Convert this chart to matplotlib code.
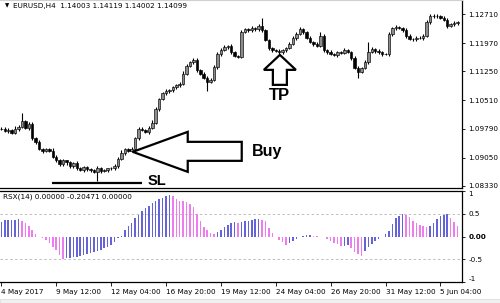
import matplotlib
matplotlib.use("Agg")
import matplotlib.pyplot as plt
import matplotlib.transforms as mtransforms
from matplotlib.patches import Polygon, Rectangle
import numpy as np

# EURUSD H4 candles (close of each bar), open of bar = previous close
CLOSES = [
    1.0979, 1.0974, 1.0976, 1.0969, 1.0979, 1.0984, 1.0999, 1.0981, 1.0991, 1.0954,
    1.0944, 1.0928, 1.0923, 1.0926, 1.0923, 1.0908, 1.0898, 1.0888, 1.0898, 1.0893,
    1.0883, 1.0891, 1.0878, 1.0873, 1.0881, 1.0876, 1.0873, 1.0868, 1.0878, 1.0871,
    1.0873, 1.0878, 1.0878, 1.0883, 1.0903, 1.0918, 1.0926, 1.0923, 1.0928, 1.0954,
    1.0979, 1.0976, 1.0971, 1.0981, 1.0994, 1.1029, 1.1054, 1.1069, 1.1074, 1.1077,
    1.1084, 1.1089, 1.1094, 1.1119, 1.1139, 1.1149, 1.1154, 1.1129, 1.1119, 1.1109,
    1.1099, 1.1104, 1.1137, 1.1169, 1.1179, 1.1187, 1.1190, 1.1174, 1.1164, 1.1162,
    1.1225, 1.1232, 1.1230, 1.1235, 1.1232, 1.1240, 1.1230, 1.1205, 1.1184, 1.1179,
    1.1177, 1.1174, 1.1179, 1.1184, 1.1195, 1.1210, 1.1220, 1.1232, 1.1225, 1.1210,
    1.1200, 1.1195, 1.1190, 1.1215, 1.1179, 1.1174, 1.1169, 1.1167, 1.1174, 1.1172,
    1.1179, 1.1174, 1.1159, 1.1134, 1.1124, 1.1134, 1.1149, 1.1174, 1.1182, 1.1177,
    1.1174, 1.1169, 1.1169, 1.1220, 1.1235, 1.1237, 1.1235, 1.1230, 1.1215, 1.1207,
    1.1207, 1.1210, 1.1210, 1.1215, 1.1250, 1.1265, 1.1267, 1.1265, 1.1262, 1.1257,
    1.1240, 1.1245, 1.1247, 1.1250,
]
OPEN_FIRST = 1.0978
WICK_UP_PIPS = [
    4, 3, 5, 2, 6, 4, 20, 3, 5, 4, 3, 5, 2, 4, 3, 6, 3, 4, 5, 2,
    4, 3, 5, 4, 3, 2, 4, 3, 5, 3, 4, 2, 3, 5, 4, 6, 3, 4, 5, 3,
    4, 5, 3, 4, 6, 5, 4, 3, 5, 4, 3, 4, 5, 6, 4, 3, 5, 4, 3, 4,
    5, 3, 4, 6, 5, 4, 3, 5, 4, 3, 5, 4, 3, 6, 4, 5, 22, 4, 3, 4,
    3, 5, 4, 3, 4, 5, 4, 6, 3, 4, 4, 3, 5, 10, 4, 3, 5, 4, 3, 4,
    5, 4, 3, 4, 5, 3, 4, 25, 4, 3, 5, 4, 3, 6, 4, 5, 3, 4, 5, 4,
    3, 4, 5, 4, 6, 5, 4, 3, 4, 5, 3, 4, 5, 4,
]
WICK_DN_PIPS = [
    3, 4, 6, 3, 4, 5, 3, 4, 5, 3, 4, 3, 5, 4, 3, 4, 5, 3, 4, 6,
    3, 4, 5, 3, 4, 5, 4, 3, 21, 4, 3, 4, 5, 3, 4, 3, 5, 4, 3, 4,
    5, 3, 4, 5, 3, 4, 5, 3, 4, 3, 4, 5, 3, 4, 3, 4, 5, 6, 4, 3,
    25, 4, 3, 5, 4, 3, 4, 5, 3, 4, 4, 3, 5, 4, 3, 4, 5, 3, 4, 5,
    3, 4, 5, 4, 3, 4, 5, 3, 4, 3, 4, 5, 3, 4, 5, 4, 3, 4, 5, 3,
    4, 3, 5, 4, 17, 3, 4, 5, 3, 4, 5, 4, 3, 4, 5, 4, 3, 4, 5, 3,
    4, 5, 3, 4, 3, 4, 5, 4, 3, 4, 5, 3, 4, 5,
]
RSX = [
    0.32, 0.36, 0.36, 0.37, 0.37, 0.38, 0.35, 0.30, 0.22, 0.14,
    0.06, -0.01, -0.04, -0.08, -0.15, -0.22, -0.30, -0.40, -0.49, -0.48,
    -0.47, -0.46, -0.45, -0.43, -0.41, -0.39, -0.37, -0.35, -0.32, -0.29,
    -0.26, -0.22, -0.18, -0.13, -0.04, 0.02, 0.15, 0.22, 0.30, 0.40,
    0.48, 0.55, 0.62, 0.68, 0.73, 0.78, 0.82, 0.85, 0.88, 0.91,
    0.88, 0.83, 0.79, 0.77, 0.75, 0.72, 0.65, 0.50, 0.35, 0.21,
    0.14, 0.07, 0.06, 0.10, 0.14, 0.20, 0.26, 0.30, 0.31, 0.305,
    0.32, 0.34, 0.35, 0.36, 0.38, 0.385, 0.37, 0.33, 0.18, 0.07,
    0.00, -0.08, -0.13, -0.19, -0.15, -0.10, -0.05, -0.02, 0.02, 0.03,
    0.035, 0.02, 0.005, 0.0, -0.02, -0.05, -0.10, -0.14, -0.17, -0.21,
    -0.20, -0.19, -0.26, -0.33, -0.38, -0.42, -0.31, -0.22, -0.16, -0.10,
    -0.05, -0.02, 0.05, 0.12, 0.28, 0.40, 0.46, 0.49, 0.47, 0.42,
    0.35, 0.30, 0.25, 0.22, 0.20, 0.22, 0.30, 0.38, 0.45, 0.48,
    0.485, 0.40, 0.32, 0.22,
]

PRICE_TICKS = [1.12710, 1.11970, 1.11250, 1.10510, 1.09790, 1.09050, 1.08330]
TIME_TICKS = [0, 16, 32, 48, 64, 80, 96, 112, 128]
TIME_LABELS = ["4 May 2017", "9 May 12:00", "12 May 04:00", "16 May 20:00",
               "19 May 12:00", "24 May 04:00", "26 May 20:00", "31 May 12:00",
               "5 Jun 04:00"]
RSX_TICKS = [1, 0.5, 0, -0.5, -1]
RSX_LABELS = ["1", "0.5", "0.00", "-0.5", "-1"]
TITLE = "EURUSD,H4  1.14003 1.14119 1.14002 1.14099"
RSX_TITLE = "RSX(14) 0.00000 -0.20471 0.00000"

BUY_BAR, BUY_PRICE = 38.3, 1.0920
TP_BAR, TP_PRICE = 81.2, 1.1167
SL_PRICE = 1.0841
SL_START, SL_END = 14.7, 40.9

PIP = 0.0001
BLUE = "#6464d8"
MAGENTA = "#ee7cee"
W, H = 500, 303
SMALL = 5.2


def box(x0, y0, x1, y1):
    return [x0 / W, 1 - y1 / H, (x1 - x0) / W, (y1 - y0) / H]


fig = plt.figure(figsize=(W / 100, H / 100), dpi=100)
ax = fig.add_axes(box(0, 0, 462, 188))
rax = fig.add_axes(box(0, 191, 462, 282))

closes = np.array(CLOSES)
opens = np.array([OPEN_FIRST] + CLOSES[:-1])
highs = np.maximum(opens, closes) + np.array(WICK_UP_PIPS) * PIP
lows = np.minimum(opens, closes) - np.array(WICK_DN_PIPS) * PIP
idx = np.arange(len(closes))
body = np.maximum(np.abs(closes - opens), 0.00006)
up = closes >= opens

ax.vlines(idx, lows, highs, color="black", lw=0.8, zorder=2)
ax.bar(idx[up], body[up], bottom=opens[up], width=0.72,
       color="#8c8c8c", edgecolor="black", linewidth=0.45, zorder=3)
ax.bar(idx[~up], body[~up], bottom=closes[~up], width=0.72,
       color="black", edgecolor="black", linewidth=0.45, zorder=3)

ax.set_xlim(-0.4, 134.3)
ax.set_ylim(1.0833 - 2 * 0.0002547, 1.0833 + 186 * 0.0002547)
ax.set_xticks([])
ax.yaxis.tick_right()
ax.set_yticks(PRICE_TICKS, [f"{t:.5f}" for t in PRICE_TICKS])
ax.tick_params(axis="y", direction="out", length=2.5, width=0.6,
               labelsize=SMALL, pad=2)
ax.spines["left"].set_visible(False)
ax.spines["top"].set_color("#d0d0d0")
ax.spines["right"].set_linewidth(0.9)
ax.spines["bottom"].set_linewidth(0.9)

ax.text(5 / 462, 1 - 6 / 188, "\u25BC", transform=ax.transAxes,
        fontsize=4, va="center", ha="left")
ax.text(13 / 462, 1 - 6 / 188, TITLE, transform=ax.transAxes,
        fontsize=SMALL, va="center", ha="left")

# Buy arrow (outline), tip anchored on the price
buy_px = [(0, 0), (55, 20), (55, 10), (109, 10), (109, -9), (55, -9), (55, -20)]
buy_trans = fig.dpi_scale_trans + mtransforms.ScaledTranslation(BUY_BAR, BUY_PRICE, ax.transData)
ax.add_patch(Polygon([(x / 100, y / 100) for x, y in buy_px], closed=True,
                     facecolor="white", edgecolor="black", lw=1.6,
                     transform=buy_trans, zorder=5, clip_on=False))
ax.annotate("Buy", xy=(BUY_BAR, BUY_PRICE), xytext=(119, 0),
            textcoords="offset pixels", ha="left", va="center",
            fontsize=11.5, fontweight="bold", family="Liberation Sans")

# TP arrow pointing up
tp_px = [(0, 0), (16, -15), (7, -15), (7, -30), (-7, -30), (-7, -15), (-16, -15)]
tp_trans = fig.dpi_scale_trans + mtransforms.ScaledTranslation(TP_BAR, TP_PRICE, ax.transData)
ax.add_patch(Polygon([(x / 100, y / 100) for x, y in tp_px], closed=True,
                     facecolor="white", edgecolor="black", lw=1.6,
                     transform=tp_trans, zorder=5, clip_on=False))
ax.annotate("TP", xy=(TP_BAR, TP_PRICE), xytext=(0, -41),
            textcoords="offset pixels", ha="center", va="center",
            fontsize=12, fontweight="bold", family="Liberation Sans")

# SL level
ax.hlines(SL_PRICE, SL_START, SL_END, color="black", lw=1.6, zorder=4)
ax.annotate("SL", xy=(SL_END, SL_PRICE), xytext=(6, 2),
            textcoords="offset pixels", ha="left", va="center",
            fontsize=10.5, fontweight="bold", family="Liberation Sans")

# RSX histogram, blue while rising and magenta while falling
rsx = np.array(RSX)
colors = np.where(np.diff(rsx, prepend=rsx[0]) >= 0, BLUE, MAGENTA)
rax.bar(idx, rsx, width=0.45, color=colors, linewidth=0)
for lvl in (0.5, -0.5):
    rax.axhline(lvl, color="#bdbdbd", lw=0.7, ls=(0, (2.5, 2.5)), zorder=0)
rax.set_xlim(ax.get_xlim())
rax.set_ylim(-1, 1)
rax.yaxis.tick_right()
rax.set_yticks(RSX_TICKS, RSX_LABELS)
rax.tick_params(axis="y", direction="out", length=2.5, width=0.6,
                labelsize=SMALL, pad=2)
labels = rax.get_yticklabels()
labels[0].set_va("top")
labels[-1].set_va("bottom")
labels[2].set_fontweight("bold")
rax.set_xticks(TIME_TICKS, TIME_LABELS, ha="left")
rax.tick_params(axis="x", direction="out", length=3, width=0.6,
                labelsize=SMALL, pad=2)
rax.spines["left"].set_visible(False)
for side in ("top", "right", "bottom"):
    rax.spines[side].set_linewidth(0.9)
rax.text(3 / 462, 1 - 6 / 91, RSX_TITLE, transform=rax.transAxes,
         fontsize=SMALL, va="center", ha="left")

fig.patches.append(Rectangle((0, 0), 1, 4 / H, transform=fig.transFigure,
                             facecolor="#f0f0f0", edgecolor="#d8d8d8", lw=0.5))

fig.savefig("out.png", dpi=100)
